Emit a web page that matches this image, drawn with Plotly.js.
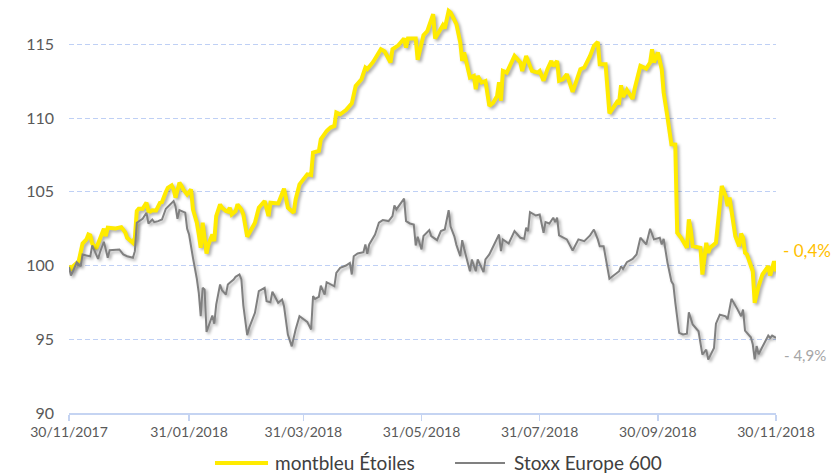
<!DOCTYPE html>
<html>
<head>
<meta charset="utf-8">
<script src="https://cdn.plot.ly/plotly-3.0.1.min.js"></script>
<style>
  html, body { margin: 0; padding: 0; background: #fff; }
  #chart { width: 836px; height: 475px; }
  .scatterlayer .js-line { filter: drop-shadow(2px 2px 1.5px rgba(0,0,0,0.32)); }
</style>
</head>
<body>
<div id="chart"></div>
<script>
// ---- montbleu Étoiles (base 100) ----
var fundDates = [
  '2017-11-30','2017-12-01','2017-12-02','2017-12-05','2017-12-07','2017-12-09','2017-12-10','2017-12-11','2017-12-12','2017-12-14','2017-12-16','2017-12-18','2017-12-19','2017-12-20','2017-12-24','2017-12-27','2017-12-29','2017-12-30',
  '2018-01-02','2018-01-03','2018-01-04','2018-01-05','2018-01-07','2018-01-09','2018-01-10','2018-01-11','2018-01-12','2018-01-14','2018-01-16','2018-01-17','2018-01-19','2018-01-20','2018-01-22','2018-01-23','2018-01-24','2018-01-26','2018-01-27','2018-01-28','2018-01-30','2018-01-31',
  '2018-02-01','2018-02-02','2018-02-04','2018-02-05','2018-02-06','2018-02-07','2018-02-08','2018-02-09','2018-02-10','2018-02-11','2018-02-12','2018-02-13','2018-02-14','2018-02-16','2018-02-17','2018-02-19','2018-02-20','2018-02-21','2018-02-22','2018-02-24','2018-02-25','2018-02-27','2018-02-28',
  '2018-03-02','2018-03-03','2018-03-06','2018-03-08','2018-03-10','2018-03-11','2018-03-13','2018-03-14','2018-03-18','2018-03-21','2018-03-23','2018-03-26','2018-03-27','2018-03-29',
  '2018-04-02','2018-04-04','2018-04-05','2018-04-08','2018-04-09','2018-04-12','2018-04-14','2018-04-16','2018-04-17','2018-04-19','2018-04-22','2018-04-25','2018-04-27','2018-04-30',
  '2018-05-02','2018-05-03','2018-05-06','2018-05-10','2018-05-12','2018-05-15','2018-05-16','2018-05-19','2018-05-22','2018-05-23','2018-05-24','2018-05-28','2018-05-29',
  '2018-06-01','2018-06-03','2018-06-06','2018-06-07','2018-06-09','2018-06-11','2018-06-12','2018-06-14','2018-06-15','2018-06-18','2018-06-20','2018-06-21','2018-06-22','2018-06-25','2018-06-27','2018-06-28','2018-06-29',
  '2018-07-01','2018-07-03','2018-07-05','2018-07-07','2018-07-09','2018-07-10','2018-07-11','2018-07-12','2018-07-14','2018-07-18','2018-07-21','2018-07-22','2018-07-24','2018-07-27','2018-07-30','2018-07-31',
  '2018-08-02','2018-08-04','2018-08-06','2018-08-07','2018-08-09','2018-08-10','2018-08-12','2018-08-14','2018-08-17','2018-08-19','2018-08-21','2018-08-23','2018-08-26','2018-08-28','2018-08-30','2018-08-31',
  '2018-09-03','2018-09-05','2018-09-07','2018-09-09','2018-09-10','2018-09-11','2018-09-12','2018-09-14','2018-09-17','2018-09-18','2018-09-21','2018-09-24','2018-09-26','2018-09-27','2018-09-28','2018-09-30',
  '2018-10-02','2018-10-03','2018-10-05','2018-10-07','2018-10-09','2018-10-10','2018-10-12','2018-10-15','2018-10-16','2018-10-17','2018-10-18','2018-10-20','2018-10-22','2018-10-23','2018-10-25','2018-10-26','2018-10-27','2018-10-30',
  '2018-11-02','2018-11-04','2018-11-05','2018-11-06','2018-11-09','2018-11-11','2018-11-12','2018-11-13','2018-11-14','2018-11-15','2018-11-18','2018-11-19','2018-11-21','2018-11-23','2018-11-26','2018-11-27','2018-11-28','2018-11-29','2018-11-30'
];
var fundValues = [
  100.0, 99.68, 99.93, 100.29, 101.49, 101.77, 102.10, 102.04, 101.49, 101.15, 101.81, 102.49, 101.99, 102.56, 102.51, 102.60, 102.26, 101.88,
  101.54, 101.88, 103.69, 103.85, 103.85, 104.26, 103.69, 103.65, 103.75, 103.73, 104.26, 104.30, 104.98, 105.27, 105.43, 105.16, 104.60, 105.61, 105.43, 105.16, 104.82, 105.04,
  105.16, 103.80, 102.90, 102.10, 101.20, 102.90, 101.77, 100.81, 101.43, 101.88, 102.10, 101.65, 103.35, 104.14, 103.92, 103.69, 103.65, 103.92, 103.46, 103.69, 104.14, 103.80, 103.46,
  101.95, 102.22, 102.90, 103.92, 104.26, 104.37, 103.35, 104.26, 104.21, 105.21, 103.92, 103.58, 104.48, 105.50,
  106.18, 106.13, 107.65, 107.76, 108.55, 109.12, 109.35, 109.46, 110.37, 110.25, 110.54, 110.99, 112.17, 112.63,
  113.42, 113.31, 113.80, 114.66, 114.51, 113.76, 114.66, 114.93, 115.39, 114.78, 115.39, 115.39, 113.94,
  115.61, 115.90, 117.04, 115.39, 115.79, 116.29, 116.07, 117.26, 117.15, 116.36, 115.12, 113.87, 114.44, 112.74, 112.85, 111.95, 112.85,
  112.40, 112.51, 110.81, 111.04, 111.49, 112.42, 111.17, 113.19, 113.08, 114.21, 113.76, 113.19, 114.21, 113.19, 113.08, 113.19,
  112.53, 113.31, 113.87, 113.53, 113.87, 112.53, 112.63, 112.97, 111.77, 112.53, 113.31, 113.42, 114.21, 114.89, 115.16, 113.65,
  113.65, 110.31, 110.76, 111.10, 111.05, 112.22, 111.43, 111.90, 111.29, 111.97, 113.53, 113.35, 113.76, 114.66, 113.76, 114.44,
  113.31, 111.73, 110.03, 108.22, 108.20, 102.22, 101.88, 101.20, 103.12, 102.44, 101.31, 101.27, 101.20, 99.39, 101.54, 100.86, 101.20, 101.54,
  105.39, 104.71, 104.03, 104.60, 101.99, 101.31, 102.17, 101.88, 100.86, 100.75, 99.61, 97.47, 98.59, 99.39, 99.95, 99.32, 99.95, 100.29, 99.60
];

// ---- Stoxx Europe 600 (base 100) ----
var indexDates = [
  '2017-11-30','2017-12-01','2017-12-02','2017-12-04','2017-12-06','2017-12-07','2017-12-09','2017-12-11','2017-12-12','2017-12-13','2017-12-15','2017-12-16','2017-12-18','2017-12-19','2017-12-20','2017-12-21','2017-12-26','2017-12-28','2017-12-30',
  '2018-01-02','2018-01-03','2018-01-04','2018-01-05','2018-01-07','2018-01-09','2018-01-10','2018-01-12','2018-01-13','2018-01-15','2018-01-17','2018-01-19','2018-01-20','2018-01-21','2018-01-23','2018-01-24','2018-01-25','2018-01-26','2018-01-28','2018-01-29','2018-01-30','2018-01-31',
  '2018-02-02','2018-02-03','2018-02-04','2018-02-05','2018-02-06','2018-02-07','2018-02-08','2018-02-09','2018-02-10','2018-02-12','2018-02-13','2018-02-14','2018-02-16','2018-02-17','2018-02-19','2018-02-20','2018-02-21','2018-02-23','2018-02-24','2018-02-26','2018-02-27','2018-02-28',
  '2018-03-02','2018-03-03','2018-03-06','2018-03-08','2018-03-11','2018-03-12','2018-03-14','2018-03-15','2018-03-18','2018-03-20','2018-03-21','2018-03-23','2018-03-25','2018-03-27','2018-03-29',
  '2018-04-02','2018-04-04','2018-04-05','2018-04-06','2018-04-08','2018-04-09','2018-04-11','2018-04-12','2018-04-14','2018-04-16','2018-04-17','2018-04-19','2018-04-22','2018-04-24','2018-04-25','2018-04-26','2018-04-28',
  '2018-05-01','2018-05-02','2018-05-03','2018-05-04','2018-05-07','2018-05-09','2018-05-11','2018-05-14','2018-05-16','2018-05-17','2018-05-18','2018-05-22','2018-05-23','2018-05-25','2018-05-27','2018-05-28','2018-05-29','2018-05-31',
  '2018-06-01','2018-06-04','2018-06-05','2018-06-08','2018-06-10','2018-06-12','2018-06-14','2018-06-15','2018-06-17','2018-06-18','2018-06-20','2018-06-21','2018-06-22','2018-06-25','2018-06-26','2018-06-28','2018-06-29',
  '2018-07-02','2018-07-03','2018-07-05','2018-07-08','2018-07-10','2018-07-11','2018-07-12','2018-07-15','2018-07-18','2018-07-21','2018-07-23','2018-07-24','2018-07-25','2018-07-26','2018-07-29','2018-07-31',
  '2018-08-01','2018-08-02','2018-08-03','2018-08-05','2018-08-07','2018-08-08','2018-08-09','2018-08-10','2018-08-14','2018-08-17','2018-08-20','2018-08-23','2018-08-26','2018-08-28','2018-08-30','2018-08-31',
  '2018-09-02','2018-09-05','2018-09-10','2018-09-11','2018-09-12','2018-09-14','2018-09-17','2018-09-19','2018-09-21','2018-09-24','2018-09-26','2018-09-28',
  '2018-10-01','2018-10-02','2018-10-03','2018-10-05','2018-10-07','2018-10-08','2018-10-09','2018-10-11','2018-10-13','2018-10-15','2018-10-16','2018-10-18','2018-10-21','2018-10-23','2018-10-25','2018-10-26','2018-10-29','2018-10-30',
  '2018-11-01','2018-11-04','2018-11-05','2018-11-07','2018-11-10','2018-11-12','2018-11-13','2018-11-14','2018-11-17','2018-11-18','2018-11-19','2018-11-20','2018-11-21','2018-11-24','2018-11-26','2018-11-27','2018-11-28','2018-11-30'
];
var indexValues = [
  99.9, 99.32, 99.61, 100.22, 99.95, 100.75, 100.68, 100.63, 101.36, 101.09, 100.45, 100.90, 101.61, 101.09, 100.52, 101.04, 101.09, 100.75, 100.63,
  100.52, 100.97, 102.90, 103.01, 103.17, 103.58, 102.85, 103.12, 102.94, 103.01, 103.12, 103.85, 103.98, 104.07, 104.37, 104.0, 103.17, 103.75, 103.62, 103.58, 102.49, 102.10,
  100.52, 99.91, 99.10, 98.15, 96.56, 98.49, 98.37, 95.50, 95.88, 96.61, 96.05, 97.35, 98.71, 98.32, 98.03, 98.71, 98.83, 99.05, 99.23, 99.39, 99.05, 97.30,
  95.28, 95.77, 96.79, 98.26, 98.49, 97.58, 97.51, 98.22, 97.47, 97.69, 97.24, 95.32, 94.52, 95.66, 96.56,
  96.18, 95.66, 97.92, 97.74, 97.88, 98.64, 98.03, 98.87, 98.71, 98.59, 99.50, 99.84, 100.0, 100.18, 99.39, 100.63, 100.81,
  100.90, 101.43, 100.79, 101.43, 102.10, 102.90, 103.08, 103.01, 103.35, 104.07, 103.80, 104.53, 103.01, 102.85, 102.78, 101.36, 101.95, 101.09,
  102.0, 102.40, 101.99, 101.72, 102.33, 102.44, 103.75, 102.64, 101.95, 101.4, 100.63, 101.72, 101.13, 99.61, 100.41, 99.61, 100.41,
  99.55, 100.41, 100.75, 101.54, 102.10, 100.97, 101.77, 101.49, 102.33, 101.88, 101.81, 102.56, 102.33, 103.62, 103.39, 103.46,
  102.90, 102.22, 102.94, 102.85, 103.24, 102.94, 103.24, 102.04, 101.77, 101.02, 101.77, 101.65, 102.04, 102.44, 101.77, 101.31,
  101.31, 99.10, 99.61, 99.95, 99.77, 100.22, 100.45, 100.75, 101.88, 101.43, 102.49, 101.77,
  101.88, 101.43, 101.81, 100.18, 98.93, 98.71, 97.5, 95.43, 95.32, 95.38, 96.83, 96.0, 95.54, 93.96, 94.30, 93.62, 94.41, 96.06,
  96.67, 96.56, 96.35, 97.74, 97.06, 96.56, 97.01, 95.59, 95.13, 94.66, 93.64, 94.54, 93.98, 94.76, 95.25, 95.09, 95.25, 95.09
];

var seriesNames = ['montbleu Étoiles', 'Stoxx Europe 600'];
var seriesColors = ['#FFEB00', '#808080'];
var endLabels = ['- 0,4%', '- 4,9%'];

var tickDates = ['2017-11-30','2018-01-31','2018-03-31','2018-05-31','2018-07-31','2018-09-30','2018-11-30'];
var tickLabels = ['30/11/2017','31/01/2018','31/03/2018','31/05/2018','31/07/2018','30/09/2018','30/11/2018'];
var yTicks = [90, 95, 100, 105, 110, 115];

var FONT = 'Lato, "Open Sans", sans-serif';

var traces = [
  {
    x: fundDates, y: fundValues, name: seriesNames[0], type: 'scatter', mode: 'lines',
    line: { color: seriesColors[0], width: 4 }, hoverinfo: 'skip', showlegend: false
  },
  {
    x: indexDates, y: indexValues, name: seriesNames[1], type: 'scatter', mode: 'lines',
    line: { color: seriesColors[1], width: 2 }, hoverinfo: 'skip', showlegend: false
  }
];

// legend drawn below the plot (paper coordinates)
var LEG_Y = -0.121;
var legendShapes = [
  { type: 'line', xref: 'paper', yref: 'paper', x0: 0.2065, x1: 0.2815, y0: LEG_Y, y1: LEG_Y,
    line: { color: seriesColors[0], width: 4 } },
  { type: 'line', xref: 'paper', yref: 'paper', x0: 0.546, x1: 0.6167, y0: LEG_Y, y1: LEG_Y,
    line: { color: seriesColors[1], width: 2 } }
];

var layout = {
  width: 836, height: 475,
  margin: { l: 69, r: 60, t: 0, b: 62 },
  paper_bgcolor: '#ffffff', plot_bgcolor: '#ffffff',
  font: { family: FONT, color: '#595959' },
  showlegend: false,
  xaxis: {
    type: 'date', range: ['2017-11-30', '2018-11-30'],
    tickmode: 'array', tickvals: tickDates, ticktext: tickLabels,
    showgrid: false, zeroline: false,
    showline: true, linecolor: '#c5d4f2', linewidth: 1.5,
    ticks: 'outside', ticklen: 6, tickcolor: '#c5d4f2', tickwidth: 1.5,
    tickfont: { family: FONT, size: 14, color: '#595959' },
    fixedrange: true
  },
  yaxis: {
    range: [90, 118], tickmode: 'array', tickvals: yTicks,
    showgrid: true, gridcolor: '#bfd0f5', gridwidth: 1, griddash: '5px,3px',
    zeroline: false, showline: false, ticks: '',
    ticklabelstandoff: 14,
    tickfont: { family: FONT, size: 16, color: '#595959' },
    fixedrange: true
  },
  shapes: legendShapes,
  annotations: [
    { xref: 'paper', yref: 'y', x: 1.0075, y: 101.0, xanchor: 'left', yanchor: 'middle',
      text: endLabels[0], showarrow: false, font: { family: FONT, size: 17, color: '#FFC000' } },
    { xref: 'paper', yref: 'y', x: 1.0085, y: 93.95, xanchor: 'left', yanchor: 'middle',
      text: endLabels[1], showarrow: false, font: { family: FONT, size: 15, color: '#A6A6A6' } },
    { xref: 'paper', yref: 'paper', x: 0.2885, y: LEG_Y, xanchor: 'left', yanchor: 'middle',
      text: seriesNames[0], showarrow: false, font: { family: FONT, size: 19, color: '#404040' } },
    { xref: 'paper', yref: 'paper', x: 0.6266, y: LEG_Y, xanchor: 'left', yanchor: 'middle',
      text: seriesNames[1], showarrow: false, font: { family: FONT, size: 19, color: '#404040' } }
  ]
};

Plotly.newPlot('chart', traces, layout, { displayModeBar: false, staticPlot: true });
</script>
</body>
</html>
